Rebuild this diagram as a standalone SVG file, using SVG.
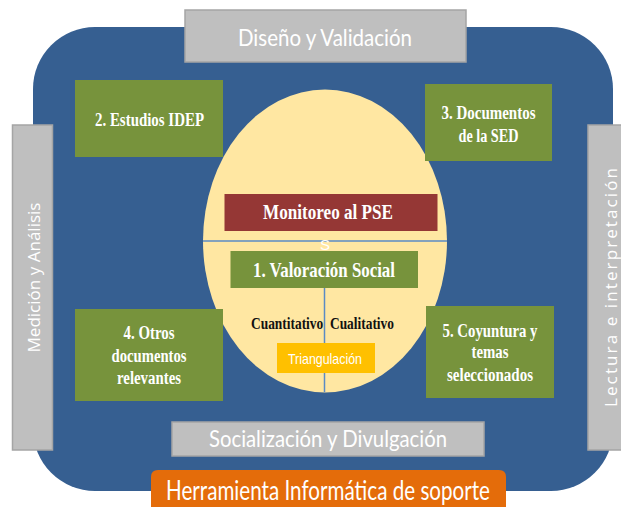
<svg xmlns="http://www.w3.org/2000/svg" width="621" height="507" viewBox="0 0 621 507">
<style>
.gray{fill:#BFBFBF;stroke:#A5A5A5;stroke-width:1.5}
.green{fill:#77933C}
.gt{font-family:"Lato","Open Sans",sans-serif;fill:#FFFFFF;font-size:24px;text-anchor:middle}
.vt{font-family:"Open Sans",sans-serif;fill:#FFFFFF;font-size:17px;text-anchor:middle}
.bt{font-family:"Liberation Serif","Times New Roman",serif;font-weight:bold;fill:#FFFFFF;font-size:18px;text-anchor:middle}
.ln{stroke:#5B8BC4;stroke-width:1.5;fill:none}
</style>
<rect id="background" x="33" y="27" width="580" height="464" rx="62" ry="62" fill="#365F91"/>
<ellipse id="core" cx="325" cy="241" rx="122" ry="151.5" fill="#FFE7A2"/>
<g id="connectors">
<line class="ln" x1="203" y1="241" x2="447" y2="241"/>
<line class="ln" x1="324.5" y1="288" x2="324.5" y2="392"/>
</g>
<g id="diseno">
<rect class="gray" x="185" y="10" width="281" height="52"/>
<text class="gt" x="325" y="46" textLength="174" lengthAdjust="spacingAndGlyphs">Diseño y Validación</text>
</g>
<g id="medicion">
<rect class="gray" x="12.5" y="125" width="40" height="325"/>
<text class="vt" transform="translate(40,277.5) rotate(-90)" textLength="150" lengthAdjust="spacingAndGlyphs">Medición y Análisis</text>
</g>
<g id="lectura">
<rect class="gray" x="588" y="125" width="40" height="325"/>
<text class="vt" transform="translate(617,287.5) rotate(-90)" textLength="239" lengthAdjust="spacing">Lectura e interpretación</text>
</g>
<g id="socializacion">
<rect class="gray" x="172" y="422" width="312" height="34"/>
<text class="gt" x="328" y="447" textLength="238" lengthAdjust="spacingAndGlyphs">Socialización y Divulgación</text>
</g>
<g id="herramienta">
<path d="M151,507 V477 Q151,470 158,470 H499 Q506,470 506,477 V507 Z" fill="#E46C0A"/>
<text class="gt" x="328" y="500" style="font-size:26px" textLength="324" lengthAdjust="spacingAndGlyphs">Herramienta Informática de soporte</text>
</g>
<g id="estudios">
<rect class="green" x="75" y="80" width="148" height="77"/>
<text class="bt" x="149.5" y="126" textLength="109" lengthAdjust="spacingAndGlyphs">2. Estudios IDEP</text>
</g>
<g id="documentos-sed">
<rect class="green" x="425" y="84" width="127" height="77"/>
<text class="bt" x="488.5" y="119" textLength="94" lengthAdjust="spacingAndGlyphs">3. Documentos</text>
<text class="bt" x="488.5" y="142" textLength="60" lengthAdjust="spacingAndGlyphs">de la SED</text>
</g>
<g id="otros">
<rect class="green" x="75" y="309" width="148" height="92"/>
<text class="bt" x="149" y="339" textLength="51" lengthAdjust="spacingAndGlyphs">4. Otros</text>
<text class="bt" x="149" y="362" textLength="75" lengthAdjust="spacingAndGlyphs">documentos</text>
<text class="bt" x="149" y="384" textLength="64" lengthAdjust="spacingAndGlyphs">relevantes</text>
</g>
<g id="coyuntura">
<rect class="green" x="426" y="306" width="128" height="92"/>
<text class="bt" x="490" y="337" textLength="95" lengthAdjust="spacingAndGlyphs">5. Coyuntura y</text>
<text class="bt" x="490" y="358" textLength="37" lengthAdjust="spacingAndGlyphs">temas</text>
<text class="bt" x="490" y="381" textLength="86" lengthAdjust="spacingAndGlyphs">seleccionados</text>
</g>
<g id="monitoreo">
<rect x="224.5" y="194" width="213" height="37" fill="#953735"/>
<text class="bt" x="328" y="219" style="font-size:22px" textLength="130" lengthAdjust="spacingAndGlyphs">Monitoreo al PSE</text>
</g>
<text x="325" y="250" font-family="Liberation Sans, sans-serif" font-size="15" fill="#FFFFFF" text-anchor="middle">S</text>
<g id="valoracion">
<rect class="green" x="230.5" y="251" width="187.5" height="37"/>
<text class="bt" x="324" y="277" style="font-size:21px" textLength="142" lengthAdjust="spacingAndGlyphs">1. Valoración  Social</text>
</g>
<text x="322.5" y="329" font-family="Liberation Serif, Times New Roman, serif" font-weight="bold" font-size="17" fill="#111111" text-anchor="middle" textLength="143" lengthAdjust="spacingAndGlyphs" style="white-space:pre">Cuantitativo  Cualitativo</text>
<g id="triangulacion">
<rect x="277" y="343" width="98" height="30" fill="#FFC000"/>
<text x="325" y="364" font-family="Liberation Sans, Arial, sans-serif" font-size="15" fill="#FFFFFF" text-anchor="middle" textLength="74" lengthAdjust="spacingAndGlyphs">Triangulación</text>
</g>
</svg>
